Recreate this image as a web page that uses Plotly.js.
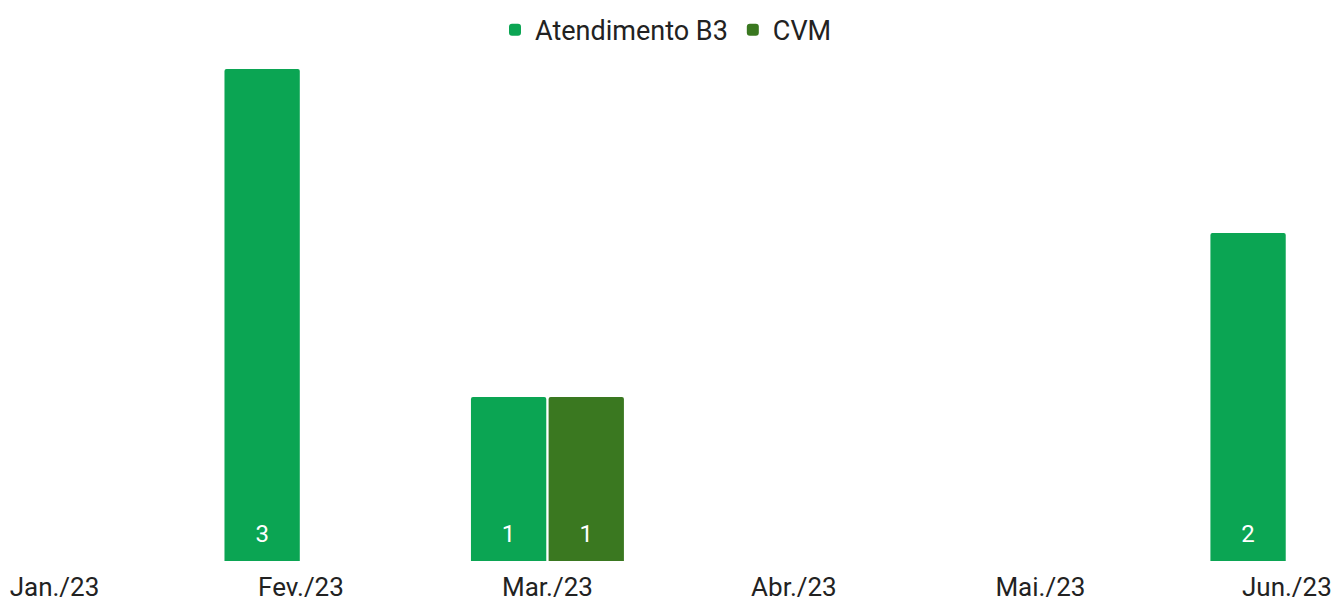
<!DOCTYPE html>
<html>
<head>
<meta charset="utf-8">
<script src="https://cdn.plot.ly/plotly-3.0.1.min.js"></script>
<style>html,body{margin:0;padding:0;background:#fff;}#chart{width:1332px;height:603px;}</style>
</head>
<body>
<div id="chart"></div>
<script>
const months = ["Jan./23", "Fev./23", "Mar./23", "Abr./23", "Mai./23", "Jun./23"];
const atendimentoB3 = [null, 3, 1, null, null, 2];
const cvm = [null, null, 1, null, null, null];
const seriesNames = ["Atendimento B3", "CVM"];
const seriesColors = ["#0ba553", "#3a7820"];

const pad = "<span style='font-size:64px'> </span>";
const common = {
  type: "bar",
  texttemplate: pad + "%{y}" + pad,
  textposition: "inside",
  insidetextanchor: "start",
  constraintext: "none",
  textfont: {family: "Roboto, Arial, sans-serif", size: 24, color: "#ffffff"},
  hoverinfo: "x+y+name"
};

const traces = [
  Object.assign({}, common, {x: months, y: atendimentoB3, name: seriesNames[0], marker: {color: seriesColors[0]}}),
  Object.assign({}, common, {x: months, y: cvm, name: seriesNames[1], marker: {color: seriesColors[1]}})
];

const layout = {
  width: 1332, height: 603,
  margin: {l: 0, r: 0, t: 69, b: 42},
  paper_bgcolor: "#ffffff", plot_bgcolor: "#ffffff",
  barmode: "group",
  bargap: 0.37,
  bargroupgap: 0.03,
  barcornerradius: 2,
  font: {family: "Roboto, Arial, sans-serif", color: "#222222"},
  showlegend: true,
  legend: {orientation: "h", x: 0.5, xanchor: "center", yref: "container", y: 0.95, yanchor: "middle",
           font: {size: 27, color: "#222222"}, itemwidth: 30, traceorder: "normal"},
  xaxis: {type: "category", range: [-0.221, 5.183], showgrid: false, zeroline: false, showline: false,
          ticks: "", ticklabelstandoff: 8, tickfont: {size: 26, color: "#222222"}, fixedrange: true},
  yaxis: {range: [0, 3], visible: false, showgrid: false, zeroline: false, fixedrange: true}
};

Plotly.newPlot("chart", traces, layout, {displayModeBar: false, staticPlot: true});
</script>
</body>
</html>
